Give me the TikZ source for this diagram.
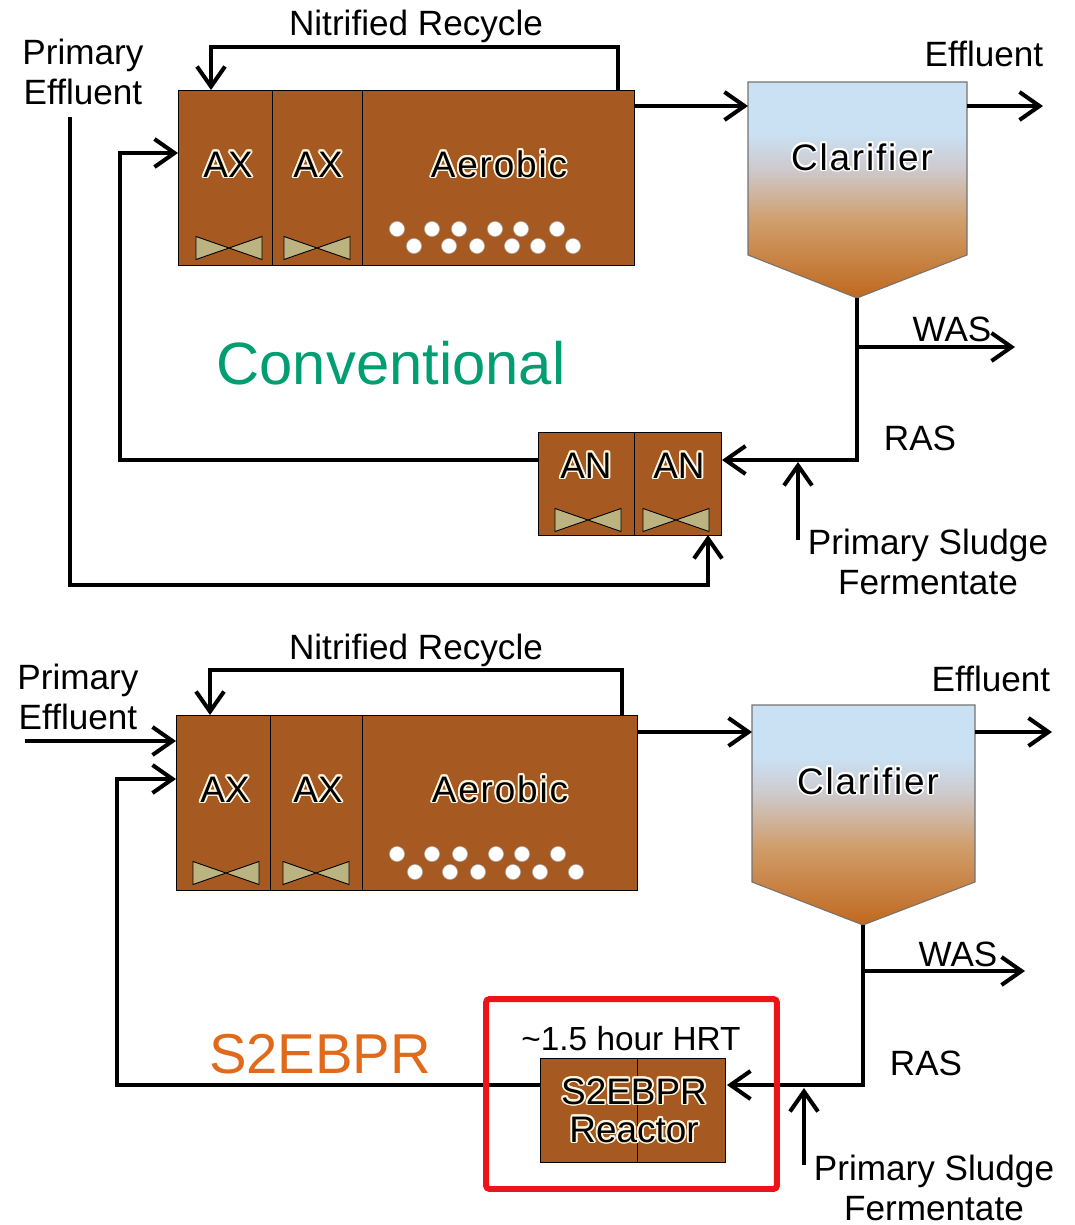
\documentclass[tikz,border=0pt]{standalone}
\usepackage{fontspec}
\setmainfont{Liberation Sans}
\usepackage[copies]{contour}
\contourlength{1pt}
\usetikzlibrary{arrows.meta, positioning}
\definecolor{tankbrown}{RGB}{166,90,34}
\definecolor{mixolive}{RGB}{188,180,128}
\definecolor{labelcream}{RGB}{255,246,225}
\definecolor{convgreen}{RGB}{0,158,112}
\definecolor{s2orange}{RGB}{224,106,26}
\definecolor{boxred}{RGB}{236,20,24}
\definecolor{clarblue}{RGB}{202,224,243}
\definecolor{clargray}{RGB}{206,202,206}
\definecolor{clartan}{RGB}{208,158,108}
\definecolor{clarbrown}{RGB}{192,104,30}
\pgfdeclareverticalshading{clarfill}{100bp}{color(0bp)=(clarbrown); color(25bp)=(clarbrown); color(43bp)=(clartan); color(55bp)=(clargray); color(63bp)=(clarblue); color(100bp)=(clarblue)}

\begin{document}
\begin{tikzpicture}[x=0.02cm, y=-0.02cm,
  cell/.style={rectangle, draw=black, fill=tankbrown, line width=0.6pt, inner sep=0pt, anchor=north west},
  tanktext/.style={font=\fontsize{21}{21.5}\selectfont, inner sep=0pt, anchor=base, align=center},
  widetext/.style={tanktext, font=\fontsize{21}{21.5}\selectfont\addfontfeature{LetterSpace=5}},
  txt/.style={font=\fontsize{20}{22.7}\selectfont, inner sep=0pt, anchor=base, align=center},
  pipe/.style={line width=2.3pt},
  flow/.style={pipe, -{Straight Barb[length=0.4cm, width=0.56cm]}},
  clarifier/.style={shading=clarfill, draw=black!55, line width=0.6pt},
  bubble/.style={fill=white, draw=black!30, line width=0.3pt},
  mixer/.pic={\filldraw[fill=mixolive, draw=black, line width=0.5pt] (-33,-11.5) -- (0,0) -- (-33,11.5) -- cycle (33,-11.5) -- (0,0) -- (33,11.5) -- cycle;}
]
\useasboundingbox (0,0) rectangle (1075,1225);

% ---------------- conventional ----------------
\node[cell, minimum width=1.88cm, minimum height=3.5cm] (ax1) at (178,90) {};
\node[cell, minimum width=1.8cm, minimum height=3.5cm] (ax2) at (272,90) {};
\node[cell, minimum width=5.44cm, minimum height=3.5cm] (aer) at (362,90) {};
\node[tanktext] (ax1t) at (228,177) {\contour{labelcream}{AX}};
\node[tanktext] (ax2t) at (318,177) {\contour{labelcream}{AX}};
\node[widetext] (aert) at (499,177) {\contour{labelcream}{Aerobic}};
\pic at (229,248) {mixer};
\pic at (317,248) {mixer};
\foreach \bx/\by in {397/229, 432/229, 459/229, 495/229, 521/229, 557/229, 414/246, 449/246, 477/246, 512/246, 538/246, 573/246}
  \filldraw[bubble] (\bx,\by) circle (0.15cm);

\shade[clarifier] (748,82) -- (967,82) -- (967,255) -- (857,298) -- (748,255) -- cycle;
\node[widetext] (clar) at (862,170) {\contour{white}{Clarifier}};
\coordinate (clarin) at (748,106);
\coordinate (clarout) at (967,106);
\coordinate (clarbot) at (857,298);

\node[cell, minimum width=1.92cm, minimum height=2.06cm] (an1) at (538,432) {};
\node[cell, minimum width=1.74cm, minimum height=2.06cm] (an2) at (634,432) {};
\node[tanktext] (an1t) at (586,478) {\contour{labelcream}{AN}};
\node[tanktext] (an2t) at (679,478) {\contour{labelcream}{AN}};
\pic at (588,520) {mixer};
\pic at (676,520) {mixer};

\coordinate (nrout) at (618,90);
\coordinate (nrin) at (211,90);
\draw[flow] (nrout) -- ++(0,-43) -| (nrin);
\node[txt] (nrlbl) at (416,35) {Nitrified Recycle};

\node[txt] (pelbl) at (83,104) {Primary\\Effluent};
\coordinate (pein) at (70,117);
\coordinate (anfeed) at (708,535);
\draw[flow] (pein) -- ++(0,468) -| (anfeed);

\coordinate (anout) at (538,460);
\coordinate (axret) at (178,153);
\draw[flow] (anout) -- ++(-418,0) |- (axret);

\coordinate (aerout) at (634,106);
\draw[flow] (aerout) -- (clarin);
\coordinate (effend) at (1043,106);
\draw[flow] (clarout) -- (effend);
\node[txt] (efflbl) at (984,66) {Effluent};

\coordinate (anin) at (722,460);
\draw[flow] (clarbot) |- (anin);
\coordinate (wasfrom) at (857,347);
\coordinate (wasend) at (1015,347);
\draw[flow] (wasfrom) -- (wasend);
\node[txt] (waslbl) at (952,341) {WAS};
\node[txt] (raslbl) at (920,450) {RAS};
\coordinate (psfrom) at (798,540);
\coordinate (psto) at (798,462);
\draw[flow] (psfrom) -- (psto);
\node[txt] (pslbl) at (928,594) {Primary Sludge\\Fermentate};

\node[font=\fontsize{34}{40}\selectfont, text=convgreen, inner sep=0pt, anchor=base] (conv) at (391,384) {Conventional};

% ---------------- S2EBPR ----------------
\node[cell, minimum width=1.88cm, minimum height=3.5cm] (axb1) at (176,715) {};
\node[cell, minimum width=1.84cm, minimum height=3.5cm] (axb2) at (270,715) {};
\node[cell, minimum width=5.5cm, minimum height=3.5cm] (aerb) at (362,715) {};
\node[tanktext] (axb1t) at (225,802) {\contour{labelcream}{AX}};
\node[tanktext] (axb2t) at (318,802) {\contour{labelcream}{AX}};
\node[widetext] (aerbt) at (500,802) {\contour{labelcream}{Aerobic}};
\pic at (226,873) {mixer};
\pic at (316,873) {mixer};
\foreach \bx/\by in {397/854, 432/854, 460/854, 496/854, 522/854, 558/854, 415/872, 450/872, 478/872, 513/872, 540/872, 576/872}
  \filldraw[bubble] (\bx,\by) circle (0.15cm);

\shade[clarifier] (752,705) -- (975,705) -- (975,882) -- (863,925) -- (752,882) -- cycle;
\node[widetext] (clarb) at (868,794) {\contour{white}{Clarifier}};
\coordinate (clarbin) at (752,732);
\coordinate (clarbout) at (975,732);
\coordinate (clarbbot) at (863,925);

\node[cell, minimum width=1.94cm, minimum height=2.08cm] (reac1) at (540,1058) {};
\node[cell, minimum width=1.76cm, minimum height=2.08cm] (reac2) at (637,1058) {};
\node[tanktext, font=\fontsize{21}{21.5}\selectfont] (react) at (634,1142) {\contour{labelcream}{S2EBPR}\\\contour{labelcream}{Reactor}};

\coordinate (nrbout) at (622,715);
\coordinate (nrbin) at (210,715);
\draw[flow] (nrbout) -- ++(0,-45) -| (nrbin);
\node[txt] (nrblbl) at (416,659) {Nitrified Recycle};

\node[txt] (peblbl) at (78,729) {Primary\\Effluent};
\coordinate (pebin) at (25,741);
\coordinate (axbin) at (176,741);
\draw[flow] (pebin) -- (axbin);

\coordinate (reacout) at (540,1085);
\coordinate (axbret) at (176,779);
\draw[flow] (reacout) -- ++(-423,0) |- (axbret);

\coordinate (aerbout) at (637,732);
\draw[flow] (aerbout) -- (clarbin);
\coordinate (effbend) at (1052,732);
\draw[flow] (clarbout) -- (effbend);
\node[txt] (effblbl) at (991,691) {Effluent};

\coordinate (reacin) at (727,1085);
\draw[flow] (clarbbot) |- (reacin);
\coordinate (wasbfrom) at (863,971);
\coordinate (wasbend) at (1025,971);
\draw[flow] (wasbfrom) -- (wasbend);
\node[txt] (wasblbl) at (958,966) {WAS};
\node[txt] (rasblbl) at (926,1075) {RAS};
\coordinate (psbfrom) at (804,1165);
\coordinate (psbto) at (804,1088);
\draw[flow] (psbfrom) -- (psbto);
\node[txt] (psblbl) at (934,1220) {Primary Sludge\\Fermentate};

\node[font=\fontsize{19}{22}\selectfont, inner sep=0pt, anchor=base] (hrt) at (631,1050) {\textasciitilde1.5 hour HRT};
\node[font=\fontsize{32}{38}\selectfont, text=s2orange, inner sep=0pt, anchor=base] (s2lbl) at (320,1073) {S2EBPR};
\node[draw=boxred, line width=3.4pt, rounded corners=2pt, minimum width=5.82cm, minimum height=3.8cm] (hrtbox) at (631.5,1094) {};
\end{tikzpicture}
\end{document}
